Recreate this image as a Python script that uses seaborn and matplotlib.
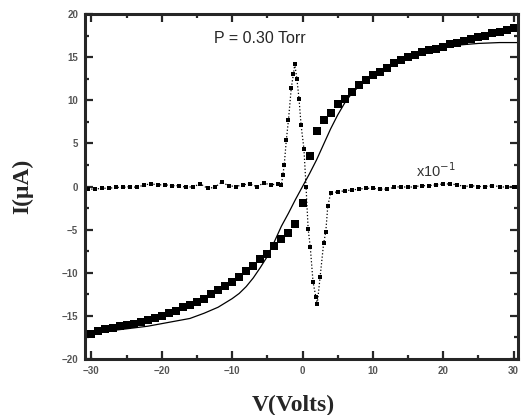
import matplotlib
matplotlib.use('Agg')
import matplotlib.pyplot as plt
import seaborn as sns
import pandas as pd
from matplotlib.ticker import MultipleLocator

# measured I-V data (squares)
volts = list(range(-30, 31))
current = [-17.1, -16.8, -16.5, -16.4, -16.2, -16.1, -15.9, -15.7, -15.5, -15.2,
           -15.0, -14.7, -14.4, -14.0, -13.7, -13.4, -13.1, -12.5, -12.0, -11.5,
           -11.1, -10.5, -9.8, -9.2, -8.4, -7.8, -6.9, -6.1, -5.4, -4.3,
           -1.9, 3.6, 6.4, 7.7, 8.5, 9.6, 10.2, 11.0, 11.8, 12.4,
           12.9, 13.3, 13.8, 14.3, 14.7, 15.0, 15.3, 15.6, 15.8, 16.0,
           16.2, 16.5, 16.7, 16.9, 17.1, 17.3, 17.5, 17.8, 17.9, 18.2, 18.4]

# fitted curve (thin solid line)
fit_v = [-31, -28, -25, -22, -20, -18, -16, -14, -12, -10, -9, -8, -7, -6, -5, -4,
         -3, -2, -1, 0, 1, 2, 3, 4, 5, 6, 7, 8, 9, 10, 12, 14, 16, 18, 20, 22,
         25, 28, 31]
fit_i = [-17.0, -16.8, -16.5, -16.2, -15.9, -15.6, -15.3, -14.7, -14.0, -13.0,
         -12.4, -11.6, -10.6, -9.4, -8.1, -6.4, -4.6, -3.1, -1.5, 0.0, 1.5, 3.1,
         4.9, 6.7, 8.3, 9.7, 10.8, 11.6, 12.3, 12.9, 13.9, 14.7, 15.3, 15.8,
         16.1, 16.4, 16.6, 16.7, 16.7]

# derivative curve, scaled x10^-1 (dotted)
deriv_v = [-30.5, -29.5, -28.5, -27.5, -26.5, -25.5, -24.5, -23.5, -22.5, -21.5,
           -20.5, -19.5, -18.5, -17.5, -16.5, -15.5, -14.5, -13.5, -12.5, -11.5,
           -10.5, -9.5, -8.5, -7.5, -6.5, -5.5, -4.5, -3.5, -3.0, -2.8, -2.6,
           -2.3, -2.0, -1.6, -1.3, -1.1, -0.8, -0.5, -0.2, 0.2, 0.5, 0.8, 1.1,
           1.5, 1.9, 2.1, 2.5, 3.0, 3.3, 3.6, 4.0, 5, 6, 7, 8, 9, 10, 11, 12,
           13, 14, 15, 16, 17, 18, 19, 20, 21, 22, 23, 24, 25, 26, 27, 28, 29,
           30, 30.5]
deriv_i = [-0.3, -0.3, -0.2, -0.2, -0.1, -0.1, 0.0, -0.1, 0.2, 0.3,
           0.2, 0.2, 0.1, 0.1, -0.1, 0.0, 0.3, -0.2, -0.1, 0.5,
           0.1, 0.0, 0.2, 0.3, 0.0, 0.4, 0.2, 0.3, 0.2, 1.3, 2.5,
           5.4, 7.7, 11.4, 13.0, 14.2, 12.5, 10.2, 7.1, 4.4, 0.0, -4.9, -7.0,
           -11.1, -12.8, -13.6, -10.5, -6.6, -5.3, -2.2, -0.8, -0.6, -0.5, -0.4,
           -0.3, -0.2, -0.2, -0.3, -0.3, -0.1, 0.0, -0.1, 0.0, 0.1, 0.1, 0.2,
           0.3, 0.3, 0.2, 0.0, 0.1, 0.0, 0.0, 0.1, 0.0, -0.1, 0.0, 0.0]

meas = pd.DataFrame({'V': volts, 'I': current})
fit = pd.DataFrame({'V': fit_v, 'I': fit_i})
deriv = pd.DataFrame({'V': deriv_v, 'I': deriv_i})

sns.set_style('ticks')
plt.rcParams['font.family'] = ['Liberation Sans', 'DejaVu Sans']

fig, ax = plt.subplots(figsize=(5.22, 4.15), dpi=100)
fig.subplots_adjust(left=0.163, right=0.992, bottom=0.135, top=0.966)

sns.lineplot(data=deriv, x='V', y='I', ax=ax, color='black', linestyle=':',
             linewidth=0.9, marker='s', markersize=2.2, markeredgewidth=0,
             sort=False, estimator=None)
sns.lineplot(data=fit, x='V', y='I', ax=ax, color='black', linewidth=0.9,
             sort=False, estimator=None)
sns.scatterplot(data=meas, x='V', y='I', ax=ax, color='black', marker='s',
                s=40, linewidth=0)

ax.set_xlim(-30.9, 30.6)
ax.set_ylim(-20, 20)
ax.xaxis.set_major_locator(MultipleLocator(10))
ax.xaxis.set_minor_locator(MultipleLocator(5))
ax.yaxis.set_major_locator(MultipleLocator(5))
ax.yaxis.set_minor_locator(MultipleLocator(2.5))
ax.tick_params(which='both', direction='in', top=True, right=True,
               width=1.6, labelsize=7, labelcolor='#555555', pad=5)
ax.tick_params(which='major', length=6)
ax.tick_params(which='minor', length=3)
for lbl in ax.get_xticklabels() + ax.get_yticklabels():
    lbl.set_fontweight('bold')
for sp in ax.spines.values():
    sp.set_linewidth(2.2)

ax.set_xlabel('V(Volts)', family='Liberation Serif', fontweight='bold',
              fontsize=17)
ax.set_ylabel('I(μA)', family='Liberation Serif', fontweight='bold',
              fontsize=17)
ax.xaxis.set_label_coords(0.48, -0.105)
ax.yaxis.set_label_coords(-0.12, 0.5)

ax.text(-12.6, 17.2, 'P = 0.30 Torr', fontsize=11.5, va='center', ha='left')
ax.text(19.0, 1.9, 'x10$^{-1}$', fontsize=10.5, va='center', ha='center',
        color='#333333')

fig.savefig('out.png', dpi=100)
